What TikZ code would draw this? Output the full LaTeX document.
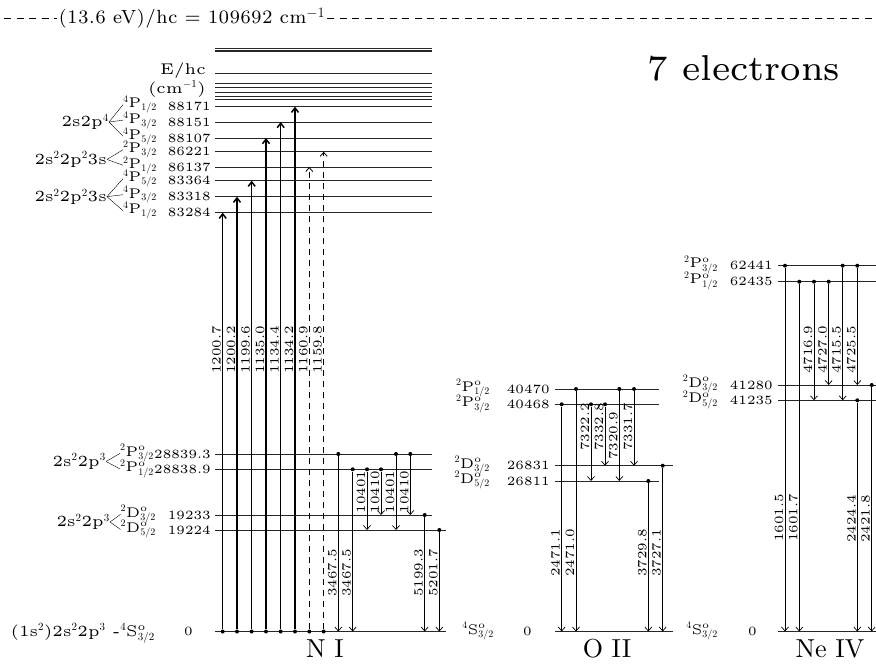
\documentclass[tikz,border=0pt]{standalone}
\usepackage{fontspec}
\setmainfont{lmroman5-regular.otf}
\newfontfamily\romten{lmroman10-regular.otf}
\newfontfamily\romeight{lmroman8-regular.otf}[LetterSpace=4]
\newfontfamily\romseven{lmroman7-regular.otf}
\usetikzlibrary{arrows.meta}

\newcommand{\lblfont}{\fontsize{12.6}{14}\selectfont}
\newcommand{\cfgfont}{\fontsize{15.5}{17}\selectfont}
\newcommand{\termfont}{\fontsize{14}{16}\selectfont}

\tikzset{
  lev/.style={line width=0.9pt, black!85},
  val/.style={anchor=east, inner sep=0pt, font=\lblfont},
  term/.style={anchor=base east, inner sep=0pt, font=\termfont},
  cfg/.style={anchor=east, inner sep=0pt, font=\cfgfont},
  wl/.style={rotate=90, anchor=south, inner sep=0.5pt, font=\lblfont},
  dot/.style={circle, fill, inner sep=0pt, minimum size=4pt},
  down/.style={-{Straight Barb[length=4pt,width=7pt]}, line width=0.7pt},
  up/.style={-{Straight Barb[length=4.5pt,width=7pt]}, line width=1.5pt},
  updash/.style={-{Straight Barb[length=4pt,width=7pt]}, line width=0.8pt, dash pattern=on 6pt off 5pt},
  ion/.style={font=\romten\fontsize{26}{28}\selectfont},
}

% downward line: name, x, upper y, lower y, wavelength, label y
\newcommand{\emis}[6]{%
  \node[dot] (#1) at (#2,#3) {};
  \coordinate (#1t) at (#2,#4);
  \draw[down] (#1) -- (#1t);
  \node[wl] (#1w) at (#2-1,#6) {#5};
}
% upward line from the ground: name, x, upper y, wavelength, style
\newcommand{\absn}[5]{%
  \node[dot] (#1) at (#2,631.5) {};
  \coordinate (#1t) at (#2,#3);
  \draw[#5] (#1) -- (#1t);
  \node[wl] (#1w) at (#2-1,350) {#4};
}

\begin{document}
\begin{tikzpicture}[x=1pt, y=-1pt]
    \useasboundingbox (0,0) rectangle (876,666);
    % Ionisation limit
    \node[font=\romeight\fontsize{19}{21}\selectfont, inner sep=2pt] (lim) at (192,18) {(13.6 eV)/hc = 109692 cm$^{-1}$};
    \coordinate (limL) at (4,18);
    \coordinate (limR) at (876,18);
    \draw[dash pattern=on 7pt off 5.5pt] (limL) -- (lim.west);
    \draw[dash pattern=on 7pt off 5.5pt] (lim.east) -- (limR);
    \node[font=\romseven\fontsize{36}{38}\selectfont] (nel) at (744,68) {7 electrons};

    % N I levels
    \draw[lev, line width=1.8pt] (215,48.5) -- (432,48.5);
    \draw[lev, line width=1.8pt] (215,51.3) -- (432,51.3);
    \draw[lev] (215,73) -- (432,73);
    \draw[lev] (215,83.5) -- (432,83.5);
    \draw[lev] (215,87.5) -- (432,87.5);
    \draw[lev] (215,92) -- (432,92);
    \draw[lev] (215,96) -- (432,96);
    \draw[lev] (215,99.5) -- (432,99.5);
    \draw[lev, line width=1.3pt] (215,106.7) -- (432,106.7);
    \draw[lev] (215,122) -- (432,122);
    \draw[lev] (215,138) -- (432,138);
    \draw[lev] (215,151.7) -- (432,151.7);
    \draw[lev] (215,167) -- (432,167);
    \draw[lev] (215,180.7) -- (432,180.7);
    \draw[lev] (215,196.7) -- (432,196.7);
    \draw[lev] (215,212.7) -- (432,212.7);
    \draw[lev] (215,454) -- (432,454);
    \draw[lev] (215,469.3) -- (432,469.3);
    \draw[lev] (215,515) -- (432,515);
    \draw[lev] (215,530) -- (446,530);
    \draw[lev] (215,631.5) -- (446,631.5);

    % N I labels
    \node[cfg] (ehc) at (206,71) {E/hc};
    \node[cfg] (ecm) at (206,89) {(cm$^{-1}$)};
    \node[val] (v88171) at (211,106.7) {88171};
    \node[val] (v88151) at (211,122) {88151};
    \node[val] (v88107) at (211,138) {88107};
    \node[val] (v86221) at (211,151.7) {86221};
    \node[val] (v86137) at (211,167) {86137};
    \node[val] (v83364) at (211,180.7) {83364};
    \node[val] (v83318) at (211,196.7) {83318};
    \node[val] (v83284) at (211,212.7) {83284};
    \node[val] (v28839) at (211,454) {28839.3};
    \node[val] (v28838) at (211,469.3) {28838.9};
    \node[val] (v19233) at (211,515) {19233};
    \node[val] (v19224) at (211,530) {19224};
    \node[val] (vN0) at (193,631.5) {0};

    \node[cfg] (cA) at (109,122) {2s2p$^4$};
    \node[term] (tA1) at (157,108) {$^4$P$_{1/2}$};
    \node[term] (tA2) at (157,123.5) {$^4$P$_{3/2}$};
    \node[term] (tA3) at (157,139.5) {$^4$P$_{5/2}$};
    \node[cfg] (cB) at (107,159.5) {2s$^2$2p$^2$3s};
    \node[term] (tB1) at (157,153) {$^2$P$_{3/2}$};
    \node[term] (tB2) at (157,168.5) {$^2$P$_{1/2}$};
    \node[cfg] (cC) at (107,196.7) {2s$^2$2p$^2$3s};
    \node[term] (tC1) at (157,182) {$^4$P$_{5/2}$};
    \node[term] (tC2) at (157,198) {$^4$P$_{3/2}$};
    \node[term] (tC3) at (157,214) {$^4$P$_{1/2}$};
    \node[cfg] (cD) at (106,461.5) {2s$^2$2p$^3$};
    \node[term] (tD1) at (154,456) {$^2$P$^{\rm o}_{3/2}$};
    \node[term] (tD2) at (154,471.5) {$^2$P$^{\rm o}_{1/2}$};
    \node[cfg] (cE) at (110,522) {2s$^2$2p$^3$};
    \node[term] (tE1) at (156,517) {$^2$D$^{\rm o}_{3/2}$};
    \node[term] (tE2) at (156,532) {$^2$D$^{\rm o}_{5/2}$};
    \node[term, font=\cfgfont] (gN) at (155,636) {(1s$^2$)2s$^2$2p$^3$ -$^4$S$^{\rm o}_{3/2}$};
    \draw (cA.east) -- (tA1.west);
    \draw (cA.east) -- (tA2.west);
    \draw (cA.east) -- (tA3.west);
    \draw (cB.east) -- (tB1.west);
    \draw (cB.east) -- (tB2.west);
    \draw (cC.east) -- (tC1.west);
    \draw (cC.east) -- (tC2.west);
    \draw (cC.east) -- (tC3.west);
    \draw (cD.east) -- (tD1.west);
    \draw (cD.east) -- (tD2.west);
    \draw (cE.east) -- (tE1.west);
    \draw (cE.east) -- (tE2.west);

    % N I lines
    \absn{a1}{222.7}{212.7}{1200.7}{up}
    \absn{a2}{237}{196.7}{1200.2}{up}
    \absn{a3}{251.7}{180.7}{1199.6}{up}
    \absn{a4}{266}{138}{1135.0}{up}
    \absn{a5}{280.7}{122}{1134.4}{up}
    \absn{a6}{295}{106.7}{1134.2}{up}
    \absn{a7}{309.3}{167}{1160.9}{updash}
    \absn{a8}{323.7}{151.7}{1159.8}{updash}
    \emis{n1}{338.3}{454}{631.5}{3467.5}{573}
    \emis{n2}{352.7}{469.3}{631.5}{3467.5}{573}
    \emis{n3}{367}{469.3}{530}{10401}{492}
    \emis{n4}{381}{469.3}{515}{10410}{492}
    \emis{n5}{396}{454}{530}{10401}{492}
    \emis{n6}{410.3}{454}{515}{10410}{492}
    \emis{n7}{424.7}{515}{631.5}{5199.3}{573}
    \emis{n8}{439.3}{530}{631.5}{5201.7}{573}
    \node[ion] (nI) at (325,649) {N I};

    % O II levels
    \draw[lev] (555,389) -- (659,389);
    \draw[lev] (555,404.3) -- (659,404.3);
    \draw[lev] (555,465.7) -- (673,465.7);
    \draw[lev] (555,481) -- (659,481);
    \draw[lev] (555,631.5) -- (673,631.5);
    \node[term] (oP1) at (490,391) {$^2$P$^{\rm o}_{1/2}$};
    \node[term] (oP2) at (490,406.5) {$^2$P$^{\rm o}_{3/2}$};
    \node[term] (oD1) at (490,468) {$^2$D$^{\rm o}_{3/2}$};
    \node[term] (oD2) at (490,483) {$^2$D$^{\rm o}_{5/2}$};
    \node[term] (oS) at (494,634) {$^4$S$^{\rm o}_{3/2}$};
    \node[val] (v40470) at (550,389) {40470};
    \node[val] (v40468) at (550,404.3) {40468};
    \node[val] (v26831) at (550,465.7) {26831};
    \node[val] (v26811) at (550,481) {26811};
    \node[val] (vO0) at (532,631.5) {0};
    % O II lines
    \emis{o1}{561.7}{404.3}{631.5}{2471.1}{553}
    \emis{o2}{576}{389}{631.5}{2471.0}{553}
    \emis{o3}{591}{404.3}{481}{7322.2}{427}
    \emis{o4}{605}{404.3}{465.7}{7332.8}{427}
    \emis{o5}{619.3}{389}{481}{7320.9}{436}
    \emis{o6}{634}{389}{465.7}{7331.7}{427}
    \emis{o7}{648.3}{481}{631.5}{3729.8}{553}
    \emis{o8}{662.7}{465.7}{631.5}{3727.1}{553}
    \node[ion] (oII) at (607,649) {O II};

    % Ne IV levels
    \draw[lev] (778,265.7) -- (876,265.7);
    \draw[lev] (778,281.7) -- (876,281.7);
    \draw[lev] (778,385) -- (876,385);
    \draw[lev] (778,400.3) -- (876,400.3);
    \draw[lev] (778,631.5) -- (876,631.5);
    \node[term] (eP1) at (718,267.5) {$^2$P$^{\rm o}_{3/2}$};
    \node[term] (eP2) at (718,283.5) {$^2$P$^{\rm o}_{1/2}$};
    \node[term] (eD1) at (718,387) {$^2$D$^{\rm o}_{3/2}$};
    \node[term] (eD2) at (718,402.5) {$^2$D$^{\rm o}_{5/2}$};
    \node[term] (eS) at (718,634) {$^4$S$^{\rm o}_{3/2}$};
    \node[val] (v62441) at (773,265.7) {62441};
    \node[val] (v62435) at (773,281.7) {62435};
    \node[val] (v41280) at (773,385) {41280};
    \node[val] (v41235) at (773,400.3) {41235};
    \node[val] (vE0) at (757,631.5) {0};
    % Ne IV lines
    \emis{e1}{785}{265.7}{631.5}{1601.5}{518}
    \emis{e2}{799.3}{281.7}{631.5}{1601.7}{518}
    \emis{e3}{814}{281.7}{400.3}{4716.9}{350}
    \emis{e4}{828.7}{281.7}{385}{4727.0}{350}
    \emis{e5}{842.7}{265.7}{400.3}{4715.5}{350}
    \emis{e6}{857.3}{265.7}{385}{4725.5}{350}
    \emis{e7}{857.3}{400.3}{631.5}{2424.4}{519}
    \emis{e8}{871.7}{385}{631.5}{2421.8}{519}
    \node[ion] (neIV) at (830,649) {Ne IV};

  \end{tikzpicture}
\end{document}
